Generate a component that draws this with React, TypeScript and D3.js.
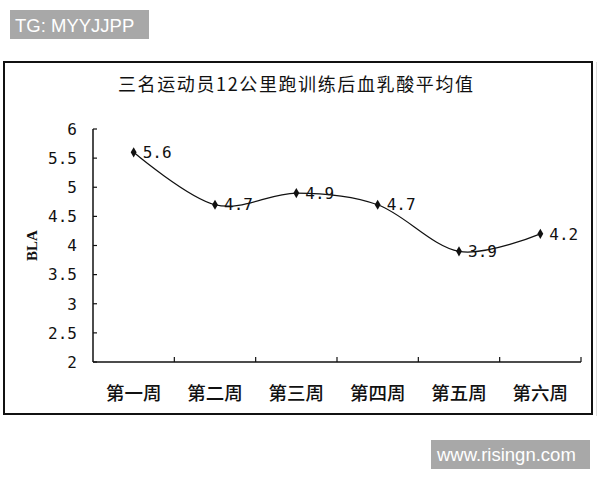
import React from "react";
import * as d3 from "d3";

const categories = ["第一周", "第二周", "第三周", "第四周", "第五周", "第六周"];
const values = [5.6, 4.7, 4.9, 4.7, 3.9, 4.2];
const yTicks = [2, 2.5, 3, 3.5, 4, 4.5, 5, 5.5, 6];
const title = "三名运动员12公里跑训练后血乳酸平均值";
const yLabel = "BLA";

export default function App() {
  const W = 600, H = 480;
  const x0 = 93, x1 = 581, yTop = 129, yBot = 362;
  const x = d3.scaleBand<string>().domain(categories).range([x0, x1]);
  const y = d3.scaleLinear().domain([2, 6]).range([yBot, yTop]);
  const cx = (c: string) => (x(c) as number) + x.bandwidth() / 2;
  const pts: [number, number][] = values.map((v, i) => [cx(categories[i]), y(v)]);
  const line = d3.line().curve(d3.curveCardinal.tension(0))(pts) as string;
  const diamond = d3.symbol(d3.symbolDiamond, 30)() as string;
  const mono = "'DejaVu Sans Mono', monospace";
  const cjk = "'Noto Sans CJK SC', sans-serif";
  const bounds = [...categories.map((c) => x(c) as number), x1];

  return (
    <svg width={W} height={H} style={{ position: "absolute", left: 0, top: 0 }}>
      <rect x={0} y={0} width={W} height={H} fill="#fff" />
      {/* watermark boxes */}
      <rect x={10} y={10} width={139} height={29} fill="#a8a8a8" />
      <text x={15} y={32} fontFamily="'Liberation Sans', Arial, sans-serif" fontSize={18.5} fill="#fff">TG: MYYJJPP</text>
      <rect x={431} y={440} width={159} height={29} fill="#a8a8a8" />
      <text x={437} y={461} fontFamily="'Liberation Sans', Arial, sans-serif" fontSize={18.5} fill="#fff">www.risingn.com</text>

      {/* frame */}
      <rect x={4} y={62} width={588} height={352} fill="#fff" stroke="#111" strokeWidth={2} />
      <line x1={596.5} y1={62} x2={596.5} y2={416} stroke="#ddd" strokeWidth={1} />

      {/* title */}
      <text x={118} y={91} fontFamily={cjk} fontSize={18} textLength={355} lengthAdjust="spacing" fill="#111">{title}</text>

      {/* y axis */}
      <line x1={x0} y1={yTop} x2={x0} y2={yBot} stroke="#111" strokeWidth={1.5} />
      {yTicks.map((t) => (
        <g key={t}>
          <line x1={x0} x2={x0 + 4} y1={y(t)} y2={y(t)} stroke="#111" strokeWidth={1.2} />
          <text x={77} y={y(t)} dy="0.36em" textAnchor="end" fontFamily={mono} fontSize={16} fill="#111">{String(t)}</text>
        </g>
      ))}
      <text transform={`translate(37,${(yTop + yBot) / 2}) rotate(-90)`} textAnchor="middle" fontFamily="'Liberation Serif', serif" fontWeight="bold" fontSize={15} fill="#111">{yLabel}</text>

      {/* x axis */}
      <line x1={x0} y1={yBot} x2={x1} y2={yBot} stroke="#111" strokeWidth={1.5} />
      {bounds.slice(1).map((b, i) => (
        <line key={i} x1={b} x2={b} y1={yBot} y2={yBot - 5} stroke="#111" strokeWidth={1.2} />
      ))}
      {categories.map((c) => (
        <text key={c} x={cx(c)} y={400} textAnchor="middle" fontFamily={cjk} fontWeight={500} fontSize={18.5} fill="#111">{c}</text>
      ))}

      {/* line */}
      <path d={line} fill="none" stroke="#111" strokeWidth={1.2} />
      {pts.map((p, i) => (
        <g key={i}>
          <path d={diamond} transform={`translate(${p[0]},${p[1]})`} fill="#111" />
          <text x={p[0] + 9} y={p[1]} dy="0.36em" fontFamily={mono} fontSize={16} fill="#111">{values[i].toFixed(1)}</text>
        </g>
      ))}
    </svg>
  );
}
